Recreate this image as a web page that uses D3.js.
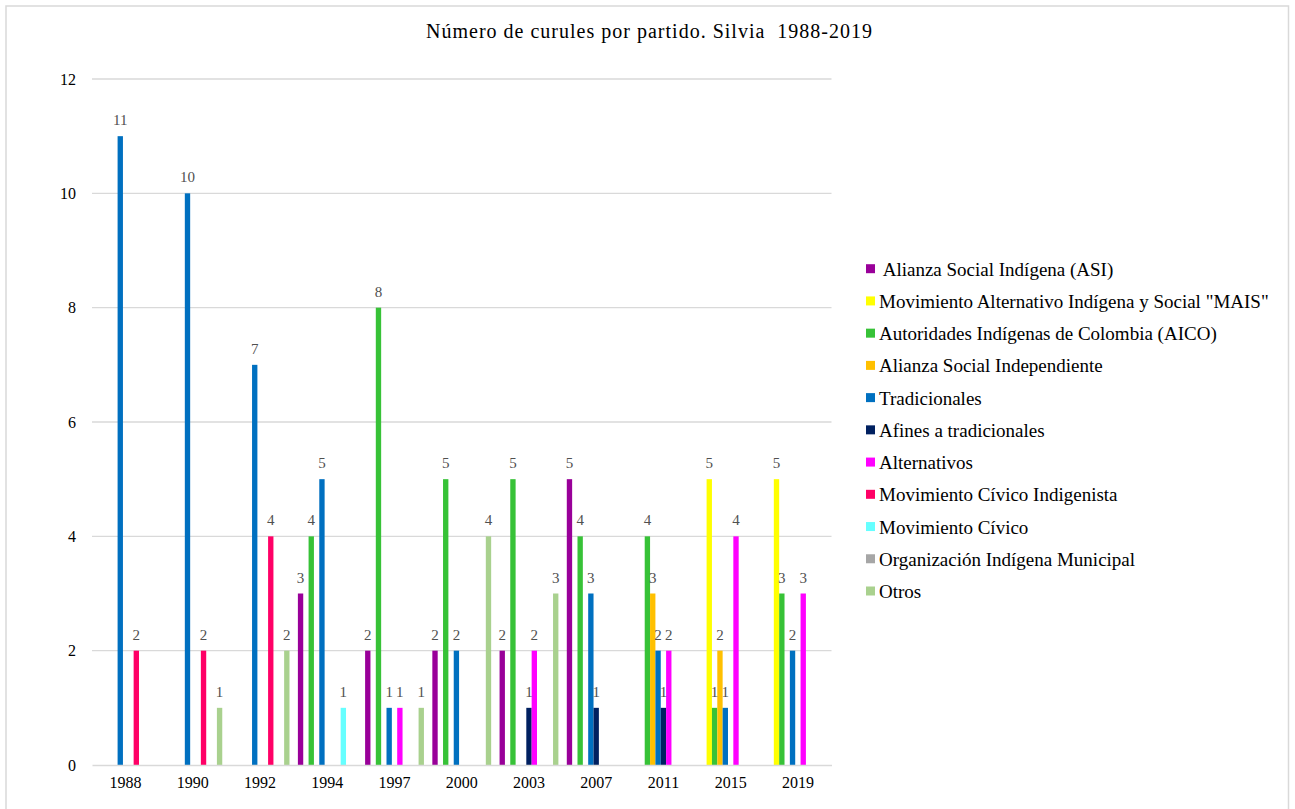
<!DOCTYPE html>
<html>
<head>
<meta charset="utf-8">
<script src="https://cdn.jsdelivr.net/npm/d3@7"></script>
<style>
  html, body { margin: 0; padding: 0; background: #fff; }
  svg { display: block; }
  svg text { font-family: "Liberation Serif", "Tinos", "Times New Roman", "DejaVu Serif", serif; }
</style>
</head>
<body>
<svg id="chart" width="1295" height="809"></svg>
<script>
// ---- Data ----
const title = "Número de curules por partido. Silvia  1988-2019";
const years = ["1988", "1990", "1992", "1994", "1997", "2000", "2003", "2007", "2011", "2015", "2019"];
const seriesNames = [
  " Alianza Social Indígena (ASI)",
  "Movimiento Alternativo Indígena y Social \"MAIS\"",
  "Autoridades Indígenas de Colombia (AICO)",
  "Alianza Social Independiente",
  "Tradicionales",
  "Afines a tradicionales",
  "Alternativos",
  "Movimiento Cívico Indigenista",
  "Movimiento Cívico",
  "Organización Indígena Municipal",
  "Otros"
];
const seriesColors = ["#990099", "#FFFF00", "#37C237", "#FFC000", "#0070C0", "#002060", "#FF00FF", "#FF0066", "#66FFFF", "#A6A6A6", "#A9D18E"];
//                       1988  1990  1992  1994  1997  2000  2003  2007  2011  2015  2019
const asi          = [null, null, null,    3,    2,    2,    2,    5, null, null, null];
const mais         = [null, null, null, null, null, null, null, null, null,    5,    5];
const aico         = [null, null, null,    4,    8,    5,    5,    4,    4,    1,    3];
const asIndep      = [null, null, null, null, null, null, null, null,    3,    2, null];
const tradicionales= [  11,   10,    7,    5,    1,    2, null,    3,    2,    1,    2];
const afines       = [null, null, null, null, null, null,    1,    1,    1, null, null];
const alternativos = [null, null, null, null,    1, null,    2, null,    2,    4,    3];
const mci          = [   2,    2,    4, null, null, null, null, null, null, null, null];
const movCivico    = [null, null, null,    1, null, null, null, null, null, null, null];
const oim          = [null, null, null, null, null, null, null, null, null, null, null];
const otros        = [null,    1,    2, null,    1,    4,    3, null, null, null, null];
const seriesValues = [asi, mais, aico, asIndep, tradicionales, afines, alternativos, mci, movCivico, oim, otros];
const yTicks = [0, 2, 4, 6, 8, 10, 12];

// ---- Layout ----
const svg = d3.select("#chart");
const plot = { left: 92, right: 831.5, top: 79, bottom: 765 };

// chart border
svg.append("rect")
  .attr("x", 6).attr("y", 6).attr("width", 1282.5).attr("height", 830)
  .attr("fill", "#fff").attr("stroke", "#d9d9d9").attr("stroke-width", 1.5);

const x0 = d3.scaleBand().domain(years).range([plot.left, plot.right])
  .paddingInner(0.125).paddingOuter(0.0625);
const x1 = d3.scaleBand().domain(d3.range(seriesNames.length)).range([0, x0.bandwidth()]).padding(0);
const y = d3.scaleLinear().domain([0, 12]).range([plot.bottom, plot.top]);

// gridlines
svg.append("g").selectAll("line").data(yTicks.filter(t => t !== 0)).join("line")
  .attr("x1", plot.left).attr("x2", plot.right)
  .attr("y1", d => y(d)).attr("y2", d => y(d))
  .attr("stroke", "#d9d9d9").attr("stroke-width", 1.3);

// y axis labels
const yAxis = d3.axisLeft(y).tickValues(yTicks).tickSize(0).tickPadding(0).tickFormat(d3.format("d"));
const yg = svg.append("g").attr("transform", `translate(${plot.left - 16},0)`).call(yAxis);
yg.attr("font-family", null).attr("font-size", null);
yg.select(".domain").remove();
yg.selectAll("text").attr("font-size", 16).attr("fill", "#000");

// bars
const flat = [];
seriesValues.forEach((vals, si) => vals.forEach((v, yi) => {
  if (v !== null && v !== undefined) flat.push({ si, year: years[yi], v });
}));

svg.append("g").selectAll("rect").data(flat).join("rect")
  .attr("x", d => x0(d.year) + x1(d.si))
  .attr("width", x1.bandwidth())
  .attr("y", d => y(d.v))
  .attr("height", d => y(0) - y(d.v))
  .attr("fill", d => seriesColors[d.si]);

// x axis line
const xAxis = d3.axisBottom(x0).tickSize(0).tickPadding(12);
const xg = svg.append("g").attr("transform", `translate(0,${plot.bottom})`).call(xAxis);
xg.attr("font-family", null).attr("font-size", null);
xg.select(".domain").attr("stroke", "#d9d9d9").attr("stroke-width", 1.5);
xg.selectAll("text").attr("font-size", 16).attr("fill", "#000");

// data labels
svg.append("g").selectAll("text").data(flat).join("text")
  .attr("x", d => x0(d.year) + x1(d.si) + x1.bandwidth() / 2)
  .attr("y", d => y(d.v) - 11)
  .attr("text-anchor", "middle")
  .attr("font-size", 15)
  .attr("fill", "#505050")
  .text(d => d.v);

// title
svg.append("text")
  .attr("x", 649).attr("y", 38)
  .attr("text-anchor", "middle")
  .attr("font-size", 20).attr("fill", "#000")
  .attr("textLength", 446).attr("lengthAdjust", "spacing")
  .style("white-space", "pre")
  .text(title);

// legend
const legend = svg.append("g").attr("transform", "translate(866,0)");
const items = legend.selectAll("g").data(seriesNames).join("g")
  .attr("transform", (d, i) => `translate(0,${268.7 + i * 32.23})`);
items.append("rect").attr("x", 0).attr("y", -4.5).attr("width", 9).attr("height", 9)
  .attr("fill", (d, i) => seriesColors[i]);
items.append("text").attr("x", 13).attr("y", 7)
  .attr("font-size", 19).attr("fill", "#000")
  .style("white-space", "pre")
  .text(d => d);
</script>
</body>
</html>
